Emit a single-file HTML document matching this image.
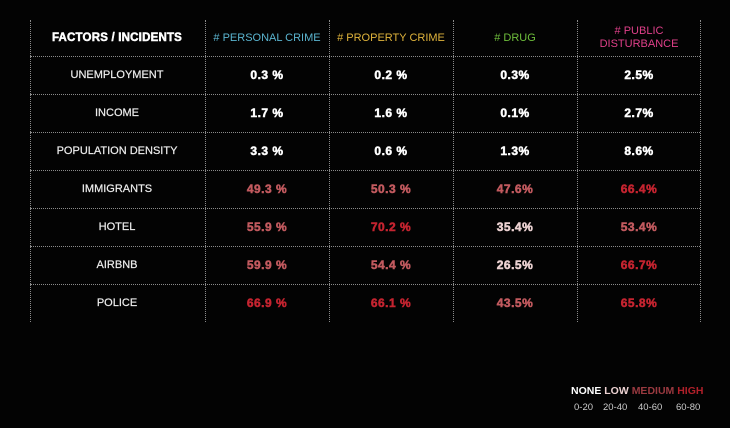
<!DOCTYPE html><html><head><style>
body{margin:0;width:730px;height:428px;background:#030303;font-family:"Liberation Sans",sans-serif;overflow:hidden;position:relative}
.v{position:absolute;top:20px;height:302px;border-left:1px dotted #8a8a8a}
.h{position:absolute;left:30px;width:670px;border-top:1px dotted #8a8a8a}
.c{position:absolute;text-align:center;transform:translate(-50%,-50%);white-space:nowrap}
.f{color:#eee;font-size:11px;-webkit-text-stroke:0.2px #eee}
.n{color:#fff;font-size:12px;font-weight:bold;letter-spacing:0.5px;-webkit-text-stroke:0.5px currentColor}
.M{color:#c25a5f}.H{color:#c52430}.L{color:#ecd2d2}
</style></head><body>
<div class="v" style="left:30px"></div><div class="v" style="left:205px"></div><div class="v" style="left:329px"></div><div class="v" style="left:453px"></div><div class="v" style="left:577px"></div><div class="v" style="left:700px"></div>
<div class="h" style="top:56px"></div><div class="h" style="top:94px"></div><div class="h" style="top:132px"></div><div class="h" style="top:170px"></div><div class="h" style="top:208px"></div><div class="h" style="top:246px"></div><div class="h" style="top:284px"></div>
<div class="c" style="left:117px;top:38px;color:#fff;font-size:11.5px;font-weight:bold;-webkit-text-stroke:0.5px #fff;letter-spacing:0.2px">FACTORS / INCIDENTS</div>
<div class="c" style="left:267px;top:38px;color:#5bb5d0;font-size:11px"># PERSONAL CRIME</div>
<div class="c" style="left:391px;top:38px;color:#e0b43c;font-size:11px"># PROPERTY CRIME</div>
<div class="c" style="left:515px;top:38px;color:#6fbf3c;font-size:11px"># DRUG</div>
<div class="c" style="left:639px;top:38px;color:#e0408a;font-size:11px;line-height:13px"># PUBLIC<br>DISTURBANCE</div>

<div class="c f" style="left:117px;top:75px">UNEMPLOYMENT</div>
<div class="c n" style="left:267px;top:75px">0.3 %</div><div class="c n" style="left:391px;top:75px">0.2 %</div><div class="c n" style="left:515px;top:75px">0.3%</div><div class="c n" style="left:639px;top:75px">2.5%</div>
<div class="c f" style="left:117px;top:113px">INCOME</div>
<div class="c n" style="left:267px;top:113px">1.7 %</div><div class="c n" style="left:391px;top:113px">1.6 %</div><div class="c n" style="left:515px;top:113px">0.1%</div><div class="c n" style="left:639px;top:113px">2.7%</div>
<div class="c f" style="left:117px;top:151px">POPULATION DENSITY</div>
<div class="c n" style="left:267px;top:151px">3.3 %</div><div class="c n" style="left:391px;top:151px">0.6 %</div><div class="c n" style="left:515px;top:151px">1.3%</div><div class="c n" style="left:639px;top:151px">8.6%</div>
<div class="c f" style="left:117px;top:189px">IMMIGRANTS</div>
<div class="c n M" style="left:267px;top:189px">49.3 %</div><div class="c n M" style="left:391px;top:189px">50.3 %</div><div class="c n M" style="left:515px;top:189px">47.6%</div><div class="c n H" style="left:639px;top:189px">66.4%</div>
<div class="c f" style="left:117px;top:227px">HOTEL</div>
<div class="c n M" style="left:267px;top:227px">55.9 %</div><div class="c n H" style="left:391px;top:227px">70.2 %</div><div class="c n L" style="left:515px;top:227px">35.4%</div><div class="c n M" style="left:639px;top:227px">53.4%</div>
<div class="c f" style="left:117px;top:265px">AIRBNB</div>
<div class="c n M" style="left:267px;top:265px">59.9 %</div><div class="c n M" style="left:391px;top:265px">54.4 %</div><div class="c n L" style="left:515px;top:265px">26.5%</div><div class="c n H" style="left:639px;top:265px">66.7%</div>
<div class="c f" style="left:117px;top:303px">POLICE</div>
<div class="c n H" style="left:267px;top:303px">66.9 %</div><div class="c n H" style="left:391px;top:303px">66.1 %</div><div class="c n M" style="left:515px;top:303px">43.5%</div><div class="c n H" style="left:639px;top:303px">65.8%</div>

<div style="position:absolute;left:571px;top:385px;font-size:10.5px;font-weight:bold;white-space:nowrap"><span style="color:#fff">NONE</span> <span style="color:#ecd2d2">LOW</span> <span style="color:#9a3a40">MEDIUM</span> <span style="color:#b0202a">HIGH</span></div>
<div style="position:absolute;top:402px;font-size:9.5px;color:#ccc;white-space:nowrap;left:574px">0-20</div>
<div style="position:absolute;top:402px;font-size:9.5px;color:#ccc;white-space:nowrap;left:603px">20-40</div>
<div style="position:absolute;top:402px;font-size:9.5px;color:#ccc;white-space:nowrap;left:638px">40-60</div>
<div style="position:absolute;top:402px;font-size:9.5px;color:#ccc;white-space:nowrap;left:676px">60-80</div>
</body></html>
